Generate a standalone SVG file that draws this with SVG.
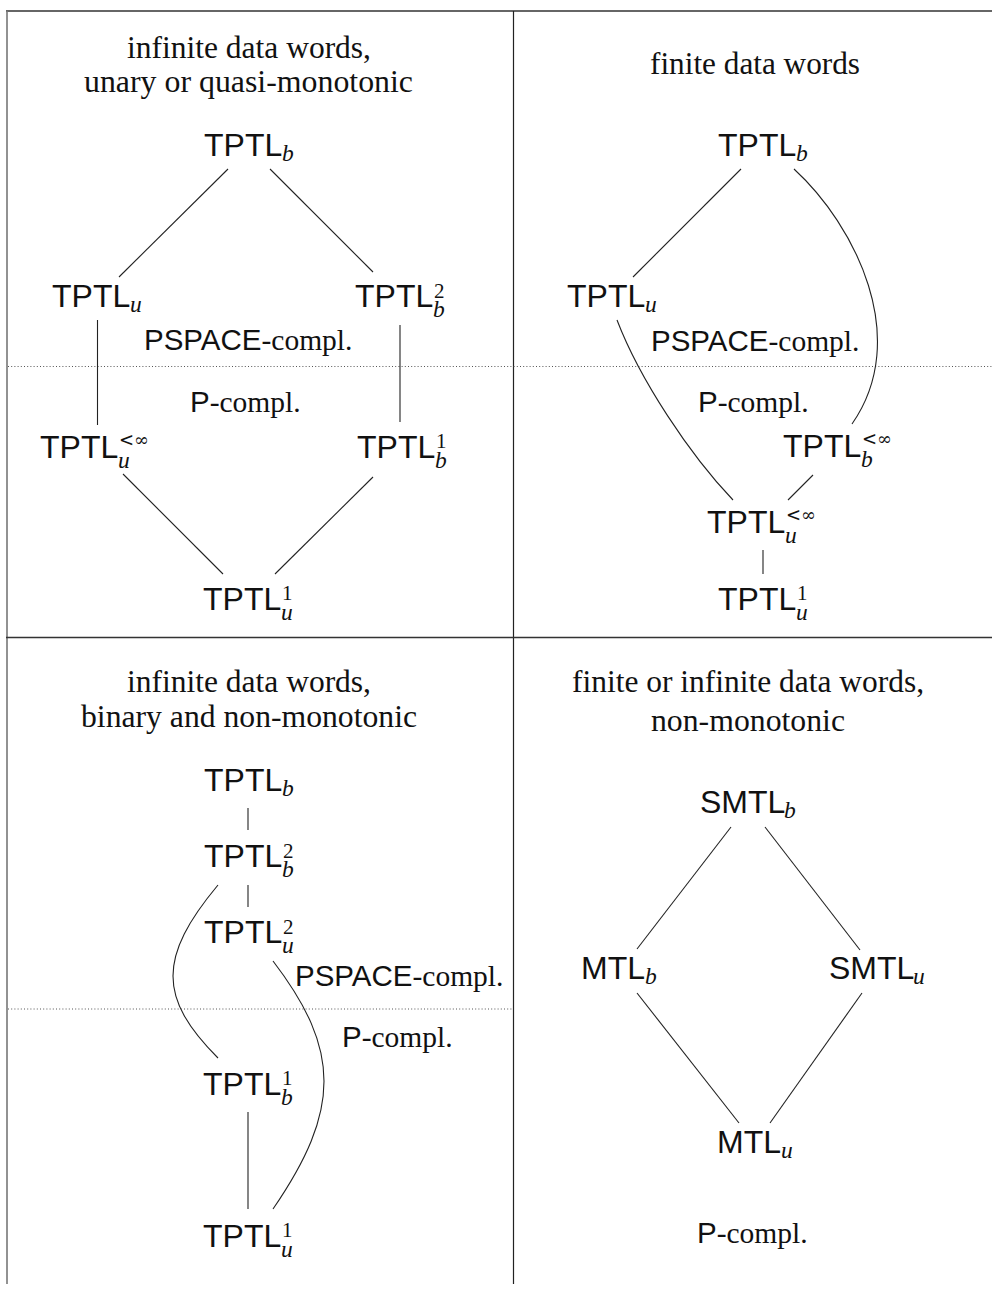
<svg xmlns="http://www.w3.org/2000/svg" width="992" height="1292" viewBox="0 0 992 1292">
<style>
.n{font-family:"Liberation Sans",Arial,sans-serif;font-size:32px;fill:#111}
.s{font-family:"Liberation Serif","Times New Roman",serif;font-style:italic;font-size:23.5px}
.d{font-family:"Liberation Serif","Times New Roman",serif;font-style:normal;font-size:21px}
.i{font-family:"DejaVu Serif","Liberation Serif",serif;font-style:normal;font-size:18px}
.t{font-family:"Liberation Serif","Times New Roman",serif;font-size:31.5px;fill:#111;text-anchor:middle}
.l{font-family:"Liberation Sans",Arial,sans-serif;font-size:29.5px;fill:#111}
.lr{font-family:"Liberation Serif","Times New Roman",serif}
.c{stroke:#222;stroke-width:1.1;fill:none}
.f{stroke:#333;stroke-width:1.4;fill:none}
.dot{stroke:#555;stroke-width:1;stroke-dasharray:1 2.2;fill:none}
</style>
<rect width="992" height="1292" fill="#fff"/>
<g id="frame">
<line class="f" x1="6" y1="11" x2="992" y2="11"/>
<line x1="7" y1="11" x2="7" y2="1284" stroke="#777" stroke-width="1.6"/>
<line x1="513.5" y1="11" x2="513.5" y2="1284" stroke="#222" stroke-width="1.2"/>
<line class="f" x1="6" y1="637.5" x2="992" y2="637.5"/>
<line class="dot" x1="8" y1="366.5" x2="992" y2="366.5"/>
<line class="dot" x1="8" y1="1009" x2="513" y2="1009"/>
</g>
<g id="titles">
<text class="t" x="249" y="58" textLength="244" lengthAdjust="spacingAndGlyphs">infinite data words,</text>
<text class="t" x="248.5" y="92" textLength="329" lengthAdjust="spacingAndGlyphs">unary or quasi-monotonic</text>
<text class="t" x="755" y="74" textLength="210" lengthAdjust="spacingAndGlyphs">finite data words</text>
<text class="t" x="249" y="692" textLength="244" lengthAdjust="spacingAndGlyphs">infinite data words,</text>
<text class="t" x="249" y="727" textLength="336" lengthAdjust="spacingAndGlyphs">binary and non-monotonic</text>
<text class="t" x="748" y="692" textLength="352" lengthAdjust="spacingAndGlyphs">finite or infinite data words,</text>
<text class="t" x="748" y="731" textLength="194" lengthAdjust="spacingAndGlyphs">non-monotonic</text>
</g>
<g id="labels">
<text class="l" x="144" y="350">PSPACE<tspan class="lr">-compl.</tspan></text>
<text class="l" x="190" y="412">P<tspan class="lr">-compl.</tspan></text>
<text class="l" x="651" y="351">PSPACE<tspan class="lr">-compl.</tspan></text>
<text class="l" x="698" y="412">P<tspan class="lr">-compl.</tspan></text>
<text class="l" x="295" y="986">PSPACE<tspan class="lr">-compl.</tspan></text>
<text class="l" x="342" y="1047">P<tspan class="lr">-compl.</tspan></text>
<text class="l" x="697" y="1243">P<tspan class="lr">-compl.</tspan></text>
</g>
<g id="connectors">
<line class="c" x1="228" y1="169" x2="119" y2="277"/>
<line class="c" x1="270" y1="169" x2="373" y2="272"/>
<line class="c" x1="97.5" y1="320" x2="97.5" y2="425"/>
<line class="c" x1="400" y1="325" x2="400" y2="422"/>
<line class="c" x1="123" y1="474" x2="223" y2="574"/>
<line class="c" x1="373" y1="477" x2="275" y2="574"/>
<line class="c" x1="741" y1="169" x2="633" y2="277"/>
<path class="c" d="M794,169 C855,225 912,338 852,424"/>
<path class="c" d="M617,320 C640,380 690,455 733,500"/>
<line class="c" x1="813" y1="475" x2="788" y2="500"/>
<line class="c" x1="763" y1="550" x2="763" y2="574"/>
<line class="c" x1="248" y1="808" x2="248" y2="830"/>
<line class="c" x1="248" y1="885" x2="248" y2="907"/>
<path class="c" d="M218,885 C158,957 158,998 218,1058"/>
<path class="c" d="M273,961 C341,1050 341,1110 273,1209"/>
<line class="c" x1="248" y1="1112" x2="248" y2="1209"/>
<line class="c" x1="731" y1="827" x2="637" y2="949"/>
<line class="c" x1="765" y1="827" x2="860" y2="950"/>
<line class="c" x1="637" y1="993" x2="739" y2="1123"/>
<line class="c" x1="862" y1="993" x2="770" y2="1123"/>
</g>
<g id="tl-tptl-b"><text class="n" x="204" y="156">TPTL<tspan class="s" x="282" y="161">b</tspan></text></g>
<g id="tl-tptl-u"><text class="n" x="52" y="307">TPTL<tspan class="s" x="130" y="312">u</tspan></text></g>
<g id="tl-tptl-b2"><text class="n" x="355" y="307">TPTL<tspan class="d" x="434" y="298">2</tspan><tspan class="s" x="433" y="317">b</tspan></text></g>
<g id="tl-tptl-uinf"><text class="n" x="40" y="458">TPTL<tspan class="i" x="119" y="446">&lt;∞</tspan><tspan class="s" x="118" y="468">u</tspan></text></g>
<g id="tl-tptl-b1"><text class="n" x="357" y="458">TPTL<tspan class="d" x="436" y="448">1</tspan><tspan class="s" x="435" y="468">b</tspan></text></g>
<g id="tl-tptl-u1"><text class="n" x="203" y="610">TPTL<tspan class="d" x="282" y="600">1</tspan><tspan class="s" x="281" y="620">u</tspan></text></g>
<g id="tr-tptl-b"><text class="n" x="718" y="156">TPTL<tspan class="s" x="796" y="161">b</tspan></text></g>
<g id="tr-tptl-u"><text class="n" x="567" y="307">TPTL<tspan class="s" x="645" y="312">u</tspan></text></g>
<g id="tr-tptl-binf"><text class="n" x="783" y="457">TPTL<tspan class="i" x="862" y="445">&lt;∞</tspan><tspan class="s" x="861" y="467">b</tspan></text></g>
<g id="tr-tptl-uinf"><text class="n" x="707" y="533">TPTL<tspan class="i" x="786" y="521">&lt;∞</tspan><tspan class="s" x="785" y="543">u</tspan></text></g>
<g id="tr-tptl-u1"><text class="n" x="718" y="610">TPTL<tspan class="d" x="797" y="600">1</tspan><tspan class="s" x="796" y="620">u</tspan></text></g>
<g id="bl-tptl-b"><text class="n" x="204" y="791">TPTL<tspan class="s" x="282" y="796">b</tspan></text></g>
<g id="bl-tptl-b2"><text class="n" x="204" y="867">TPTL<tspan class="d" x="283" y="858">2</tspan><tspan class="s" x="282" y="877">b</tspan></text></g>
<g id="bl-tptl-u2"><text class="n" x="204" y="943">TPTL<tspan class="d" x="283" y="934">2</tspan><tspan class="s" x="282" y="953">u</tspan></text></g>
<g id="bl-tptl-b1"><text class="n" x="203" y="1095">TPTL<tspan class="d" x="282" y="1085">1</tspan><tspan class="s" x="281" y="1105">b</tspan></text></g>
<g id="bl-tptl-u1"><text class="n" x="203" y="1247">TPTL<tspan class="d" x="282" y="1237">1</tspan><tspan class="s" x="281" y="1257">u</tspan></text></g>
<g id="br-smtl-b"><text class="n" x="700" y="813">SMTL<tspan class="s" x="784" y="818">b</tspan></text></g>
<g id="br-mtl-b"><text class="n" x="581" y="979">MTL<tspan class="s" x="645" y="984">b</tspan></text></g>
<g id="br-smtl-u"><text class="n" x="829" y="979">SMTL<tspan class="s" x="913" y="984">u</tspan></text></g>
<g id="br-mtl-u"><text class="n" x="717" y="1153">MTL<tspan class="s" x="781" y="1158">u</tspan></text></g>
</svg>
